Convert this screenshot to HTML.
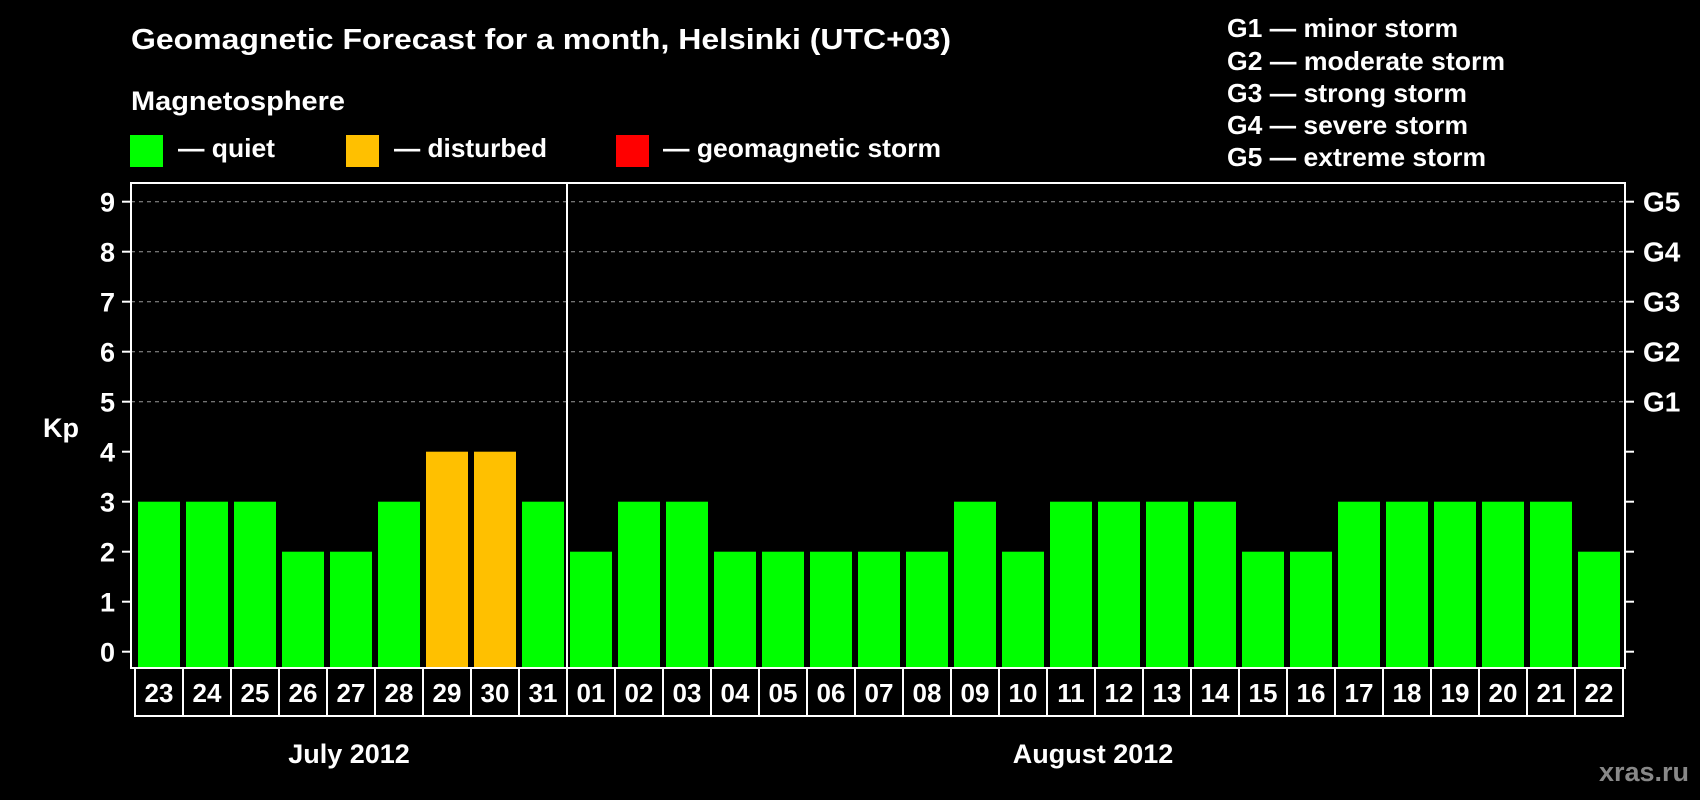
<!DOCTYPE html>
<html><head><meta charset="utf-8"><style>
html,body{margin:0;padding:0;background:#000;}
svg{display:block;font-family:"Liberation Sans",Arial,sans-serif;font-weight:bold;}
</style></head><body>
<svg id="chart" width="1700" height="800" viewBox="0 0 1700 800" xmlns="http://www.w3.org/2000/svg">
<rect width="1700" height="800" fill="#000"/>
<text x="131" y="49" font-size="29" fill="#fff" textLength="820" lengthAdjust="spacingAndGlyphs">Geomagnetic Forecast for a month, Helsinki (UTC+03)</text>
<text x="131" y="110" font-size="27" fill="#fff" textLength="214" lengthAdjust="spacingAndGlyphs">Magnetosphere</text>
<g>
<rect x="130" y="135" width="33" height="32" fill="#00ff00"/>
<text x="178" y="157" font-size="26" fill="#fff" textLength="97" lengthAdjust="spacingAndGlyphs">— quiet</text></g>
<g>
<rect x="346" y="135" width="33" height="32" fill="#ffc000"/>
<text x="394" y="157" font-size="26" fill="#fff" textLength="153" lengthAdjust="spacingAndGlyphs">— disturbed</text></g>
<g>
<rect x="616" y="135" width="33" height="32" fill="#ff0000"/>
<text x="663" y="157" font-size="26" fill="#fff" textLength="278" lengthAdjust="spacingAndGlyphs">— geomagnetic storm</text></g>
<g font-size="26" fill="#fff">
<text x="1227" y="37" textLength="231" lengthAdjust="spacingAndGlyphs">G1 — minor storm</text>
<text x="1227" y="70" textLength="278" lengthAdjust="spacingAndGlyphs">G2 — moderate storm</text>
<text x="1227" y="102" textLength="240" lengthAdjust="spacingAndGlyphs">G3 — strong storm</text>
<text x="1227" y="134" textLength="241" lengthAdjust="spacingAndGlyphs">G4 — severe storm</text>
<text x="1227" y="166" textLength="259" lengthAdjust="spacingAndGlyphs">G5 — extreme storm</text>
</g>
<text x="43" y="437" font-size="27" fill="#fff">Kp</text>
<text x="349" y="763" font-size="27" fill="#fff" text-anchor="middle">July 2012</text>
<text x="1093" y="763" font-size="27" fill="#fff" text-anchor="middle">August 2012</text>
<text x="1689" y="781" font-size="27" fill="#888" text-anchor="end">xras.ru</text>
<g id="plot"></g>
</svg>
<script>
const days = ["23","24","25","26","27","28","29","30","31","01","02","03","04","05","06","07","08","09","10","11","12","13","14","15","16","17","18","19","20","21","22"];
const kpValues = [3,3,3,2,2,3,4,4,3,2,3,3,2,2,2,2,2,3,2,3,3,3,3,2,2,3,3,3,3,3,2];
const yTicks = [0,1,2,3,4,5,6,7,8,9];
const gLabels = ["G1","G2","G3","G4","G5"];
const gLevels = [5,6,7,8,9];
const monthSplitIndex = 9;

const NS = "http://www.w3.org/2000/svg";
const plot = document.getElementById('plot');
const L = 131, R = 1625, T = 183, B = 668, cellX0 = 135, pitch = 48, barW = 42;
function y(v){ return 651.7 - 50 * v; }
function x(i){ return cellX0 + i * pitch; }
function mk(tag, attrs){ const e = document.createElementNS(NS, tag); for (const k in attrs) e.setAttribute(k, attrs[k]); plot.appendChild(e); return e; }
function color(v){ return v >= 5 ? '#ff0000' : (v >= 4 ? '#ffc000' : '#00ff00'); }

gLevels.forEach((lv, i) => {
  const g = mk('line', {x1: L, x2: R, y1: y(lv), y2: y(lv), stroke: '#999', 'stroke-width': 1, 'stroke-dasharray': '4,4'});
  
  
  const t = mk('text', {x: 1643, y: y(lv) + 10, 'font-size': 28, fill: '#fff'});
  t.textContent = gLabels[i];
  
  
});
yTicks.forEach(v => {
  const tl = mk('line', {x1: 122, x2: L, y1: y(v), y2: y(v), stroke: '#fff', 'stroke-width': 2});
  
  
  const tr = mk('line', {x1: R, x2: 1634, y1: y(v), y2: y(v), stroke: '#fff', 'stroke-width': 2});
  
  
  const t = mk('text', {x: 115, y: y(v) + 10, 'font-size': 27, fill: '#fff', 'text-anchor': 'end'});
  t.textContent = v;
  
  
});
kpValues.forEach((v, i) => {
  const b = mk('rect', {x: x(i) + 3, y: y(v), width: barW, height: B - y(v), fill: color(v)});
  
  
});
const frame = mk('rect', {x: L, y: T, width: R - L, height: B - T, fill: 'none', stroke: '#fff', 'stroke-width': 2});


const div = mk('line', {x1: x(monthSplitIndex), x2: x(monthSplitIndex), y1: T, y2: 716, stroke: '#fff', 'stroke-width': 2});


days.forEach((d, i) => {
  const c = mk('rect', {x: x(i), y: B, width: pitch, height: 48, fill: 'none', stroke: '#fff', 'stroke-width': 2});
  
  
  const t = mk('text', {x: x(i) + pitch / 2, y: 702, 'font-size': 26, fill: '#fff', 'text-anchor': 'middle'});
  t.textContent = d;
  
  
});
</script>
</body></html>
